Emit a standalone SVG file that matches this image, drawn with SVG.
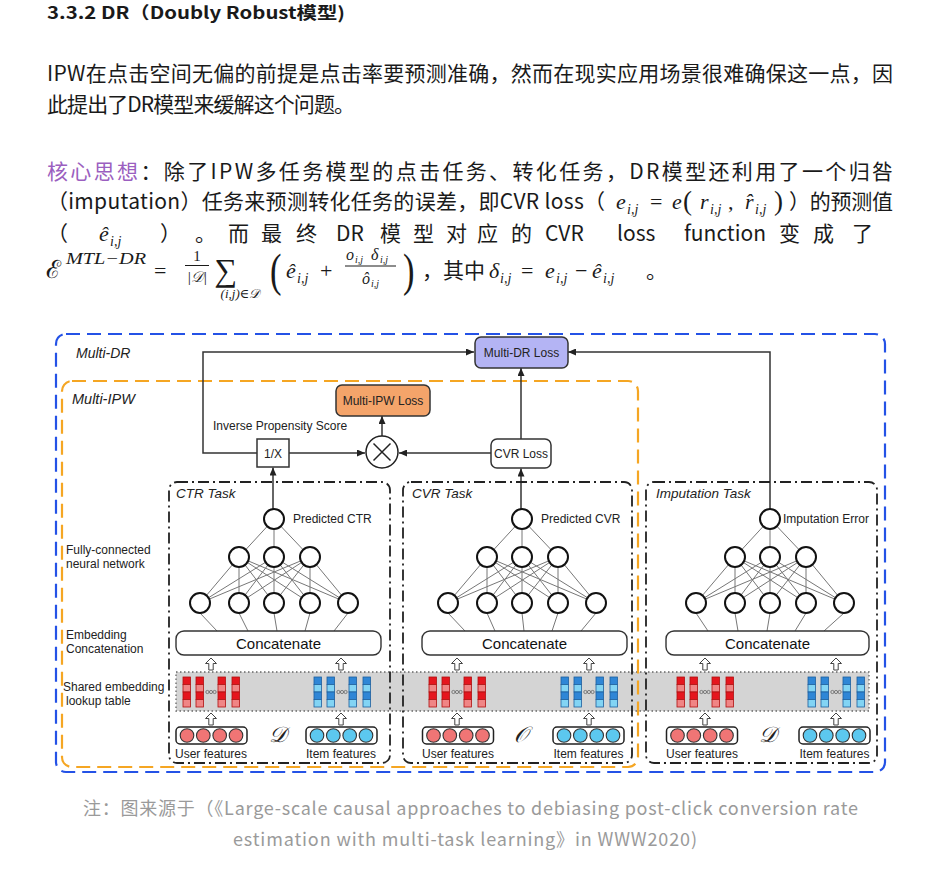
<svg xmlns="http://www.w3.org/2000/svg" width="930" height="874" viewBox="0 0 930 874">
<defs>
<style>
.body{font-family:"Noto Sans CJK SC","Noto Sans",sans-serif;font-size:21px;fill:#1a1a1a}
.title{font-family:"Noto Sans CJK SC","Noto Sans",sans-serif;font-size:17px;font-weight:bold;fill:#1a1a1a}
.cap{font-family:"Noto Sans CJK SC","Noto Sans",sans-serif;font-size:18px;fill:#9a9a9a}
.m{font-family:"Liberation Serif","DejaVu Serif",serif;font-style:italic;font-size:22px;fill:#1a1a1a}
.mn{font-family:"Liberation Serif","DejaVu Serif",serif;font-size:22px;fill:#1a1a1a}
.sub{font-family:"Liberation Serif","DejaVu Serif",serif;font-style:italic;font-size:14px;fill:#1a1a1a}
.lbl{font-family:"Liberation Sans",Arial,sans-serif;font-size:12px;fill:#222}
.mid{text-anchor:middle}
.it{font-family:"Liberation Sans",Arial,sans-serif;font-style:italic;fill:#222}
.cc{font-family:"Liberation Sans",Arial,sans-serif;font-size:15px;fill:#111;text-anchor:middle}
.scr{font-family:"Liberation Serif","DejaVu Serif",serif;font-style:italic;font-size:22px;fill:#222;text-anchor:middle}
.task{fill:none;stroke:#222;stroke-width:1.8;stroke-dasharray:11,4,2,4}
.concat{fill:#fff;stroke:#333;stroke-width:1.4}
.conn{fill:none;stroke:#333;stroke-width:1.5}
.nnl{stroke:#777;stroke-width:1}
.node{fill:#fff;stroke:#111;stroke-width:2}
.box{stroke:#333;stroke-width:1.5}
</style>
<marker id="ah" viewBox="0 0 8 7" refX="8" refY="3.5" markerWidth="8" markerHeight="7" markerUnits="userSpaceOnUse" orient="auto">
<path d="M0,0 L8,3.5 L0,7 Z" fill="#222"/>
</marker>
<path id="harrow" d="M0,0 L5.5,5.5 L2.2,5.5 L2.2,12 L-2.2,12 L-2.2,5.5 L-5.5,5.5 Z" fill="#fff" stroke="#444" stroke-width="1"/>
<g id="net">
<g class="nnl">
<line x1="0" y1="0" x2="-35" y2="38"/><line x1="0" y1="0" x2="0" y2="38"/><line x1="0" y1="0" x2="36" y2="38"/>
<line x1="-35" y1="38" x2="-74" y2="84"/><line x1="-35" y1="38" x2="-35" y2="84"/><line x1="-35" y1="38" x2="0" y2="84"/><line x1="-35" y1="38" x2="36" y2="84"/><line x1="-35" y1="38" x2="74" y2="84"/>
<line x1="0" y1="38" x2="-74" y2="84"/><line x1="0" y1="38" x2="-35" y2="84"/><line x1="0" y1="38" x2="0" y2="84"/><line x1="0" y1="38" x2="36" y2="84"/><line x1="0" y1="38" x2="74" y2="84"/>
<line x1="36" y1="38" x2="-74" y2="84"/><line x1="36" y1="38" x2="-35" y2="84"/><line x1="36" y1="38" x2="0" y2="84"/><line x1="36" y1="38" x2="36" y2="84"/><line x1="36" y1="38" x2="74" y2="84"/>
</g>
<circle class="node" cx="0" cy="0" r="10"/>
<circle class="node" cx="-35" cy="38" r="10"/><circle class="node" cx="0" cy="38" r="10"/><circle class="node" cx="36" cy="38" r="10"/>
<circle class="node" cx="-74" cy="84" r="10"/><circle class="node" cx="-35" cy="84" r="10"/><circle class="node" cx="0" cy="84" r="10"/><circle class="node" cx="36" cy="84" r="10"/><circle class="node" cx="74" cy="84" r="10"/>
</g>
<g id="colR" stroke="#b01010" stroke-width="0.8">
<rect x="0" y="0" width="7.5" height="7.5" fill="#e5161e"/><rect x="0" y="7.5" width="7.5" height="7.5" fill="#f08585"/><rect x="0" y="15" width="7.5" height="7.5" fill="#e5161e"/><rect x="0" y="22.5" width="7.5" height="7.5" fill="#f08585"/>
</g>
<g id="colB" stroke="#1d5f9e" stroke-width="0.8">
<rect x="0" y="0" width="7.5" height="7.5" fill="#2f86d6"/><rect x="0" y="7.5" width="7.5" height="7.5" fill="#82d4f4"/><rect x="0" y="15" width="7.5" height="7.5" fill="#2f86d6"/><rect x="0" y="22.5" width="7.5" height="7.5" fill="#82d4f4"/>
</g>
<g id="dots" fill="none" stroke="#666" stroke-width="0.8">
<circle cx="-3.6" cy="15" r="1.6"/><circle cx="0" cy="15" r="1.6"/><circle cx="3.6" cy="15" r="1.6"/>
</g>
<g id="embU">
<use href="#colR" x="-28"/><use href="#colR" x="-15"/><use href="#dots"/><use href="#colR" x="7"/><use href="#colR" x="21"/>
</g>
<g id="embI">
<use href="#colB" x="-28"/><use href="#colB" x="-15"/><use href="#dots"/><use href="#colB" x="7"/><use href="#colB" x="21"/>
</g>
<g id="featU">
<rect x="-35.5" y="0" width="71" height="17" rx="4" fill="#fff" stroke="#222" stroke-width="1.5"/>
<g fill="#f07575" stroke="#333" stroke-width="1.1"><circle cx="-24.5" cy="8.5" r="6.8"/><circle cx="-8.2" cy="8.5" r="6.8"/><circle cx="8.2" cy="8.5" r="6.8"/><circle cx="24.5" cy="8.5" r="6.8"/></g>
</g>
<g id="featI">
<rect x="-35.5" y="0" width="71" height="17" rx="4" fill="#fff" stroke="#222" stroke-width="1.5"/>
<g fill="#5cc8ef" stroke="#333" stroke-width="1.1"><circle cx="-24.5" cy="8.5" r="6.8"/><circle cx="-8.2" cy="8.5" r="6.8"/><circle cx="8.2" cy="8.5" r="6.8"/><circle cx="24.5" cy="8.5" r="6.8"/></g>
</g>
</defs>
<rect width="930" height="874" fill="#fff"/>

<!-- Article text -->
<g id="article">
<text class="title" x="47" y="19" textLength="298" lengthAdjust="spacingAndGlyphs">3.3.2 DR（Doubly Robust模型)</text>
<text class="body" x="47" y="81" textLength="846" lengthAdjust="spacing">IPW在点击空间无偏的前提是点击率要预测准确，然而在现实应用场景很难确保这一点，因</text>
<text class="body" x="47" y="112" textLength="308" lengthAdjust="spacing">此提出了DR模型来缓解这个问题。</text>

<text class="body" x="47" y="179" textLength="846" lengthAdjust="spacing"><tspan fill="#9b5fc0">核心思想</tspan>：除了IPW多任务模型的点击任务、转化任务，DR模型还利用了一个归咎</text>

<text class="body" x="47" y="209" textLength="558" lengthAdjust="spacing">（imputation）任务来预测转化任务的误差，即CVR loss（</text>
<text class="m" x="616" y="209">e</text><text class="sub" x="627" y="214">i,j</text>
<text class="mn" x="650" y="209">=</text>
<text class="m" x="672" y="209">e</text>
<text class="mn" x="683" y="210" style="font-size:27px">(</text>
<text class="m" x="700" y="209">r</text><text class="sub" x="710" y="214">i,j</text>
<text class="mn" x="728" y="209">,</text>
<text class="m" x="745" y="209">r̂</text><text class="sub" x="755" y="214">i,j</text>
<text class="mn" x="774" y="210" style="font-size:27px">)</text>
<text class="body" x="789" y="209" textLength="104" lengthAdjust="spacing">）的预测值</text>

<text class="body" y="241"><tspan x="47">（</tspan><tspan x="160">）</tspan><tspan x="195">。</tspan><tspan x="228">而</tspan><tspan x="261">最</tspan><tspan x="296">终</tspan><tspan x="336">DR</tspan><tspan x="380">模</tspan><tspan x="413">型</tspan><tspan x="446">对</tspan><tspan x="477">应</tspan><tspan x="511">的</tspan><tspan x="545">CVR</tspan><tspan x="617">loss</tspan><tspan x="684">function</tspan><tspan x="779">变</tspan><tspan x="813">成</tspan><tspan x="852">了</tspan></text>
<text class="m" x="99" y="241">ê</text><text class="sub" x="110" y="246">i,j</text>

<text class="mn" x="46" y="278" style="font-size:25px">ℰ</text>
<text class="m" x="66" y="264" style="font-size:16px" textLength="80" lengthAdjust="spacingAndGlyphs">MTL−DR</text>
<text class="mn" x="154" y="278">=</text>
<text class="mn mid" x="197" y="261" style="font-size:15px">1</text>
<line x1="185" y1="265.5" x2="209" y2="265.5" stroke="#1a1a1a" stroke-width="1"/>
<text class="m mid" x="197" y="282" style="font-size:15px">|𝒟|</text>
<text class="mn mid" x="226" y="281" style="font-size:32px">∑</text>
<text class="sub mid" x="240" y="298" style="font-size:13px">(i,j)∈𝒟</text>
<text class="mn" x="270" y="286" style="font-size:46px" transform="translate(270 286) scale(0.75 1) translate(-270 -286)">(</text>
<text class="m" x="286" y="278">ê</text><text class="sub" x="297" y="283">i,j</text>
<text class="mn" x="320" y="278">+</text>
<text class="m" x="346" y="260" style="font-size:16px">o</text><text class="sub" x="355" y="263" style="font-size:10px">i,j</text>
<text class="m" x="371" y="260" style="font-size:16px">δ</text><text class="sub" x="380" y="263" style="font-size:10px">i,j</text>
<line x1="345" y1="266" x2="396" y2="266" stroke="#1a1a1a" stroke-width="1"/>
<text class="m" x="362" y="284" style="font-size:16px">ô</text><text class="sub" x="371" y="287" style="font-size:10px">i,j</text>
<text class="mn" x="403" y="286" style="font-size:46px" transform="translate(403 286) scale(0.75 1) translate(-403 -286)">)</text>
<text class="body" x="422" y="278">，其中</text>
<text class="m" x="489" y="278">δ</text><text class="sub" x="500" y="283">i,j</text>
<text class="mn" x="521" y="278">=</text>
<text class="m" x="545" y="278">e</text><text class="sub" x="556" y="283">i,j</text>
<text class="mn" x="575" y="278">−</text>
<text class="m" x="592" y="278">ê</text><text class="sub" x="603" y="283">i,j</text>
<text class="body" x="646" y="278">。</text>
</g>

<!-- shared embedding band -->
<rect id="shared-embedding-band" x="176" y="672" width="693" height="39" fill="#d4d4d4" stroke="#666" stroke-width="1.3" stroke-dasharray="1.5,2.5"/>

<!-- containers -->
<g id="multi-dr">
<rect x="56" y="334" width="829" height="438" rx="10" fill="none" stroke="#2452e6" stroke-width="2.2" stroke-dasharray="14,7"/>
<text class="it" x="76" y="358" style="font-size:14px">Multi-DR</text>
</g>
<g id="multi-ipw">
<rect x="62" y="381" width="576" height="386" rx="10" fill="none" stroke="#f5a623" stroke-width="2.2" stroke-dasharray="14,7"/>
<text class="it" x="72" y="404" style="font-size:14.5px">Multi-IPW</text>
</g>

<!-- left labels -->
<g id="row-labels">
<text class="lbl" x="66" y="554">Fully-connected</text>
<text class="lbl" x="66" y="568">neural network</text>
<text class="lbl" x="66" y="639">Embedding</text>
<text class="lbl" x="66" y="653">Concatenation</text>
<text class="lbl" x="63" y="691">Shared embedding</text>
<text class="lbl" x="66" y="705">lookup table</text>
</g>

<!-- connectors -->
<g id="connectors" class="conn">
<path d="M257,453 H203 V352 H474" marker-end="url(#ah)"/>
<path d="M289,453 H365" marker-end="url(#ah)"/>
<path d="M491,453 H399" marker-end="url(#ah)"/>
<path d="M382,436 V416" marker-end="url(#ah)"/>
<path d="M521,439 V368" marker-end="url(#ah)"/>
<path d="M770,509 V352 H568" marker-end="url(#ah)"/>
<path d="M273,509 V467.5" marker-end="url(#ah)"/>
<path d="M521,509 V468.5" marker-end="url(#ah)"/>
</g>

<!-- loss nodes -->
<g id="multi-dr-loss">
<rect class="box" x="475" y="337" width="93" height="31" rx="6" fill="#b4b4f4"/>
<text class="lbl mid" x="521.5" y="357">Multi-DR Loss</text>
</g>
<g id="multi-ipw-loss">
<rect class="box" x="336" y="385" width="94" height="31" rx="6" fill="#f4a46a"/>
<text class="lbl mid" x="383" y="405">Multi-IPW Loss</text>
</g>
<g id="ips-label">
<text class="lbl" x="213" y="430">Inverse Propensity Score</text>
</g>
<g id="inverse">
<rect class="box" x="257" y="439" width="32" height="28" fill="#fff"/>
<text class="lbl mid" x="273" y="457.5">1/X</text>
</g>
<g id="multiply">
<circle cx="382" cy="452" r="16" fill="#fff" stroke="#222" stroke-width="1.5"/>
<path d="M373.5,443.5 L390.5,460.5 M390.5,443.5 L373.5,460.5" stroke="#222" stroke-width="1.5"/>
</g>
<g id="cvr-loss">
<rect class="box" x="491" y="439" width="60" height="29" rx="6" fill="#fff"/>
<text class="lbl mid" x="521" y="458">CVR Loss</text>
</g>

<!-- CTR task -->
<g id="ctr-task">
<rect class="task" x="169" y="482" width="221" height="281" rx="8"/>
<text class="it" x="176" y="498" style="font-size:13.5px">CTR Task</text>
<path class="nnl" d="M200,613 L217,631 M239,613 L248,631 M274,613 L277,631 M310,613 L305,631 M348,613 L334,631"/>
<use href="#net" x="274" y="519"/>
<text class="lbl" x="293" y="523">Predicted CTR</text>
<rect class="concat" x="176" y="631" width="205" height="24" rx="8"/>
<text class="cc" x="278.5" y="648.5">Concatenate</text>
<use href="#harrow" x="211" y="658"/><use href="#harrow" x="341" y="658"/>
<use href="#embU" x="211" y="677"/><use href="#embI" x="342" y="677"/>
<use href="#harrow" x="211" y="713"/><use href="#harrow" x="341" y="713"/>
<use href="#featU" x="211.5" y="727"/><use href="#featI" x="341.5" y="727"/>
<text class="lbl mid" x="211" y="758">User features</text>
<text class="lbl mid" x="341" y="758">Item features</text>
<text class="scr" x="278" y="742">𝒟</text>
</g>

<!-- CVR task -->
<g id="cvr-task">
<rect class="task" x="403" y="482" width="229" height="281" rx="8"/>
<text class="it" x="412" y="498" style="font-size:13.5px">CVR Task</text>
<path class="nnl" d="M448,613 L465,631 M487,613 L495,631 M522,613 L524,631 M558,613 L552,631 M596,613 L581,631"/>
<use href="#net" x="522" y="519"/>
<text class="lbl" x="541" y="523">Predicted CVR</text>
<rect class="concat" x="422" y="631" width="205" height="24" rx="8"/>
<text class="cc" x="524.5" y="648.5">Concatenate</text>
<use href="#harrow" x="457" y="658"/><use href="#harrow" x="589" y="658"/>
<use href="#embU" x="457" y="677"/><use href="#embI" x="589" y="677"/>
<use href="#harrow" x="457" y="713"/><use href="#harrow" x="589" y="713"/>
<use href="#featU" x="458" y="727"/><use href="#featI" x="588.5" y="727"/>
<text class="lbl mid" x="458" y="758">User features</text>
<text class="lbl mid" x="588.5" y="758">Item features</text>
<text class="scr" x="521" y="742">𝒪</text>
</g>

<!-- Imputation task -->
<g id="imputation-task">
<rect class="task" x="646" y="482" width="231" height="281" rx="8"/>
<text class="it" x="656" y="498" style="font-size:13.5px">Imputation Task</text>
<path class="nnl" d="M696,613 L708,631 M735,613 L738,631 M770,613 L767,631 M806,613 L795,631 M844,613 L824,631"/>
<use href="#net" x="770" y="519"/>
<text class="lbl" x="783" y="523">Imputation Error</text>
<rect class="concat" x="666" y="631" width="203" height="24" rx="8"/>
<text class="cc" x="767.5" y="648.5">Concatenate</text>
<use href="#harrow" x="705" y="658"/><use href="#harrow" x="836" y="658"/>
<use href="#embU" x="705" y="677"/><use href="#embI" x="836" y="677"/>
<use href="#harrow" x="705" y="713"/><use href="#harrow" x="836" y="713"/>
<use href="#featU" x="702" y="727"/><use href="#featI" x="834.5" y="727"/>
<text class="lbl mid" x="702" y="758">User features</text>
<text class="lbl mid" x="834.5" y="758">Item features</text>
<text class="scr" x="768" y="742">𝒟</text>
</g>

<!-- caption -->
<g id="caption">
<text class="cap" x="83" y="815" textLength="775" lengthAdjust="spacing">注：图来源于（《Large-scale causal approaches to debiasing post-click conversion rate</text>
<text class="cap" x="233" y="846" textLength="464" lengthAdjust="spacing">estimation with multi-task learning》in WWW2020)</text>
</g>
</svg>
